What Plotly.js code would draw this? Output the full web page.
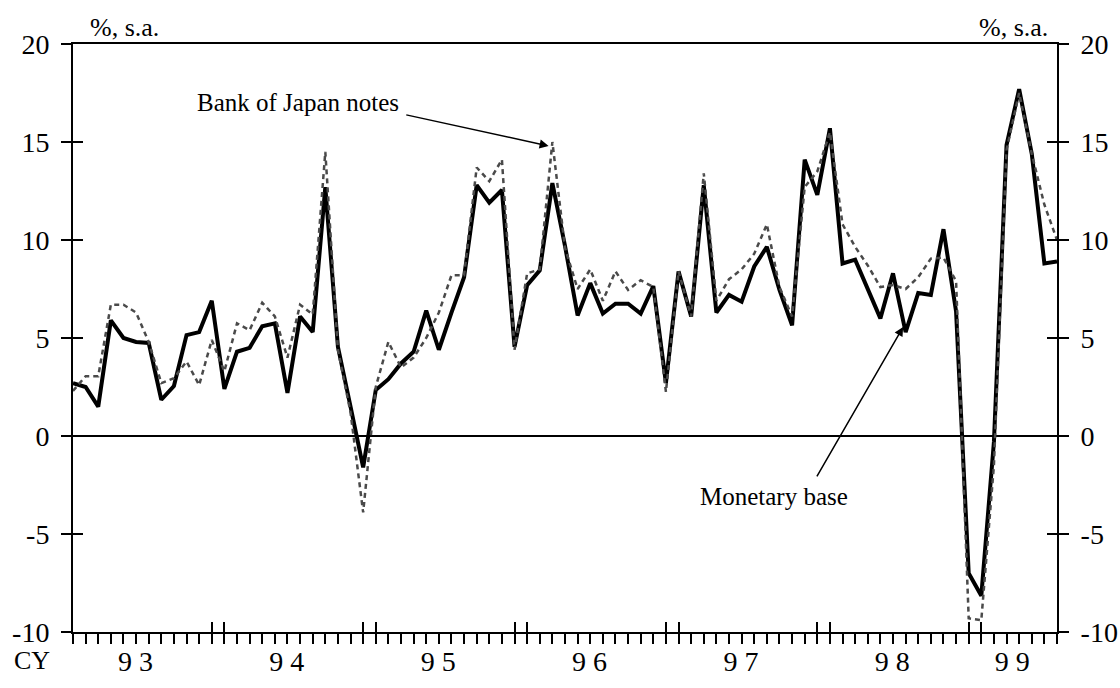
<!DOCTYPE html>
<html>
<head>
<meta charset="utf-8">
<script src="https://cdn.plot.ly/plotly-3.0.1.min.js"></script>
<style>
  html, body { margin: 0; padding: 0; background: #ffffff; }
  #chart { width: 1120px; height: 688px; }
</style>
</head>
<body>
<div id="chart"></div>
<script>
// ---- data (monthly, Jan 1993 - Jul 1999), % change, s.a. ----
const monetaryBase = [
  2.7, 2.5, 1.5, 5.9, 5.0, 4.8, 4.75, 1.85, 2.55, 5.15, 5.3, 6.9,      // 1993
  2.4, 4.3, 4.5, 5.6, 5.75, 2.2, 6.1, 5.3, 12.7, 4.55, 1.5, -1.6,      // 1994
  2.35, 2.9, 3.7, 4.3, 6.4, 4.4, 6.3, 8.1, 12.8, 11.9, 12.55, 4.55,    // 1995
  7.7, 8.45, 12.9, 9.7, 6.15, 7.8, 6.25, 6.75, 6.75, 6.25, 7.65, 2.7,  // 1996
  8.4, 6.1, 12.8, 6.3, 7.2, 6.85, 8.65, 9.65, 7.45, 5.65, 14.1, 12.3,  // 1997
  15.7, 8.8, 9.0, 7.55, 6.0, 8.3, 5.3, 7.3, 7.2, 10.55, 6.35, -7.0,    // 1998
  -8.15, -0.3, 14.85, 17.7, 14.4, 8.8, 8.9                             // 1999
];
const bojNotes = [
  2.3, 3.05, 3.05, 6.7, 6.7, 6.3, 4.8, 2.7, 2.95, 3.8, 2.6, 4.9,       // 1993
  3.3, 5.75, 5.4, 6.8, 6.1, 4.0, 6.7, 6.2, 14.5, 4.4, 1.2, -3.9,       // 1994
  2.5, 4.8, 3.5, 4.0, 5.0, 6.3, 8.2, 8.2, 13.7, 13.0, 14.1, 4.4,       // 1995
  8.3, 8.5, 15.0, 9.6, 7.5, 8.5, 6.9, 8.4, 7.45, 7.95, 7.6, 2.25,      // 1996
  8.4, 6.1, 13.4, 6.9, 8.0, 8.5, 9.3, 10.8, 7.6, 6.1, 12.7, 13.5,      // 1997
  15.5, 10.8, 9.65, 8.7, 7.6, 7.7, 7.5, 8.1, 9.05, 9.1, 7.9, -9.3,     // 1998
  -9.4, -1.5, 14.6, 17.5, 14.4, 11.8, 10.0                             // 1999
];
const yearLabels = ['9 3', '9 4', '9 5', '9 6', '9 7', '9 8', '9 9'];
const yTickVals = [-10, -5, 0, 5, 10, 15, 20];
const yTickText = ['-10', '-5', '0', '5', '10', '15', '20'];

// month category labels
const months = monetaryBase.map((_, i) => {
  const y = 1993 + Math.floor(i / 12);
  const m = (i % 12) + 1;
  return y + '-' + (m < 10 ? '0' + m : m);
});
const lastIdx = months.length - 1;
// year boundary ticks (Dec / Jan) and year label positions
const boundaryTicks = [];
const yearCenters = [];
for (let yr = 0; yr < yearLabels.length; yr++) {
  const first = yr * 12;
  const last = Math.min(first + 11, lastIdx);
  yearCenters.push((first + last) / 2 - 0.55);
  if (last === first + 11 && last < lastIdx) { boundaryTicks.push(last, last + 1); }
}

const FONT = 'Liberation Serif, Times New Roman, serif';
const xr = [0, lastIdx];

// empty helper traces so that the overlay axes (ticks / labels) get drawn
function axisHolder(xa, ya) {
  return { x: [], y: [], type: 'scatter', mode: 'lines', xaxis: xa, yaxis: ya,
           hoverinfo: 'skip', showlegend: false };
}

const traces = [
  {
    x: months, y: monetaryBase, type: 'scatter', mode: 'lines', name: 'Monetary base',
    line: { color: '#000000', width: 4 }, xaxis: 'x', yaxis: 'y'
  },
  {
    x: months, y: bojNotes, type: 'scatter', mode: 'lines', name: 'Bank of Japan notes',
    line: { color: '#4a4a4a', width: 2.5, dash: '5px,4px' }, xaxis: 'x', yaxis: 'y'
  },
  axisHolder('x2', 'y'),
  axisHolder('x3', 'y'),
  axisHolder('x', 'y2'),
  axisHolder('x', 'y3'),
  axisHolder('x', 'y4')
];

const yBase = {
  range: [-10, 20], tickmode: 'array', tickvals: yTickVals, ticktext: yTickText,
  showgrid: false, zeroline: false, fixedrange: true
};

const layout = {
  width: 1120, height: 688,
  margin: { l: 73, r: 63, t: 44, b: 56 },
  paper_bgcolor: '#ffffff', plot_bgcolor: '#ffffff',
  showlegend: false,
  font: { family: FONT, color: '#000000', size: 26 },
  xaxis: {
    type: 'category', range: xr, tickmode: 'array', tickvals: months,
    ticks: 'outside', ticklen: 10, tickwidth: 2, tickcolor: '#000',
    showticklabels: false, showgrid: false, zeroline: false,
    showline: true, linewidth: 2, linecolor: '#000', mirror: true
  },
  xaxis2: {
    type: 'linear', overlaying: 'x', anchor: 'y', side: 'bottom', range: xr,
    tickmode: 'array', tickvals: boundaryTicks,
    ticks: 'inside', ticklen: 10, tickwidth: 2, tickcolor: '#000',
    showticklabels: false, showgrid: false, zeroline: false, showline: false
  },
  xaxis3: {
    type: 'linear', overlaying: 'x', anchor: 'y', side: 'bottom', range: xr,
    tickmode: 'array', tickvals: yearCenters, ticktext: yearLabels,
    ticks: '', showticklabels: true, ticklabelstandoff: 10,
    tickfont: { family: FONT, size: 28, color: '#000' },
    showgrid: false, zeroline: false, showline: false
  },
  yaxis: Object.assign({}, yBase, {
    side: 'left', anchor: 'x',
    ticks: 'outside', ticklen: 10, tickwidth: 2, tickcolor: '#000',
    tickfont: { family: FONT, size: 28, color: '#000' }, ticklabelstandoff: 6,
    showline: true, linewidth: 2, linecolor: '#000',
    zeroline: true, zerolinecolor: '#000', zerolinewidth: 1.5
  }),
  yaxis3: Object.assign({}, yBase, {
    overlaying: 'y', side: 'left', anchor: 'x',
    ticks: 'inside', ticklen: 10, tickwidth: 2, tickcolor: '#000',
    showticklabels: false, showline: false
  }),
  yaxis2: Object.assign({}, yBase, {
    overlaying: 'y', side: 'right', anchor: 'x',
    ticks: 'outside', ticklen: 10, tickwidth: 2, tickcolor: '#000',
    tickfont: { family: FONT, size: 28, color: '#000' }, ticklabelstandoff: 6,
    showline: true, linewidth: 2, linecolor: '#000'
  }),
  yaxis4: Object.assign({}, yBase, {
    overlaying: 'y', side: 'right', anchor: 'x',
    ticks: 'inside', ticklen: 10, tickwidth: 2, tickcolor: '#000',
    showticklabels: false, showline: false
  }),
  annotations: [
    { xref: 'paper', yref: 'paper', x: 0.015, y: 1.0, xanchor: 'left', yanchor: 'bottom',
      text: '%, s.a.', showarrow: false, font: { family: FONT, size: 26 } },
    { xref: 'paper', yref: 'paper', x: 0.993, y: 1.0, xanchor: 'right', yanchor: 'bottom',
      text: '%, s.a.', showarrow: false, font: { family: FONT, size: 26 } },
    { xref: 'paper', yref: 'paper', x: -0.062, y: -0.048, xanchor: 'left', yanchor: 'middle',
      text: 'CY', showarrow: false, font: { family: FONT, size: 26 } },
    { xref: 'x', yref: 'y', x: 17.8, y: 17.0, xanchor: 'center', yanchor: 'middle',
      text: 'Bank of Japan notes', showarrow: false, font: { family: FONT, size: 25 } },
    { xref: 'x', yref: 'y', x: 37.7, y: 14.8, axref: 'x', ayref: 'y', ax: 26.3, ay: 16.4,
      text: '', showarrow: true, arrowhead: 2, arrowsize: 1.2, arrowwidth: 1.5, arrowcolor: '#000' },
    { xref: 'x', yref: 'y', x: 55.6, y: -3.1, xanchor: 'center', yanchor: 'middle',
      text: 'Monetary base', showarrow: false, font: { family: FONT, size: 25 } },
    { xref: 'x', yref: 'y', x: 65.8, y: 5.56, axref: 'x', ayref: 'y', ax: 58.9, ay: -2.14,
      text: '', showarrow: true, arrowhead: 2, arrowsize: 1.2, arrowwidth: 1.5, arrowcolor: '#000' }
  ]
};

Plotly.newPlot('chart', traces, layout, { staticPlot: true, displayModeBar: false });
</script>
</body>
</html>
